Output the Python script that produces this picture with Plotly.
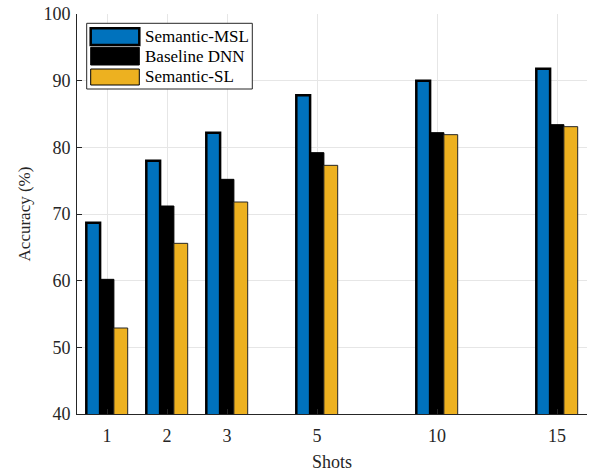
import plotly.graph_objects as go

shots_labels = ["1", "2", "3", "5", "10", "15"]
x_positions = [1, 2, 3, 4.5, 6.5, 8.5]
semantic_msl = [68.7, 78.0, 82.2, 87.8, 90.0, 91.8]
baseline_dnn = [60.2, 71.2, 75.2, 79.2, 82.2, 83.4]
semantic_sl = [52.9, 65.6, 71.8, 77.3, 81.9, 83.1]

series_names = ["Semantic-MSL", "Baseline DNN", "Semantic-SL"]
colors = ["#0072BD", "#000000", "#EDB120"]
line_widths = [2.5, 1, 1]
line_colors = ["#000000", "#000000", "#262626"]

FONT = "Liberation Serif"

fig = go.Figure()
for name, vals, c, lw, lc in zip(series_names, [semantic_msl, baseline_dnn, semantic_sl], colors, line_widths, line_colors):
    fig.add_trace(go.Bar(x=x_positions, y=vals, name=name, marker=dict(color=c, line=dict(color=lc, width=lw)),
                         showlegend=False))

L, R, T, B = 77, 5, 14, 60
W, H = 592, 474
pw, ph = W - L - R, H - T - B

def px(xp):
    return (xp - L) / pw

def py(yp):
    return (T + ph - yp) / ph

# custom legend (MATLAB style wide swatches)
fig.add_shape(type="rect", xref="paper", yref="paper", x0=px(86.7), x1=px(252.3), y0=py(89), y1=py(23.3),
              line=dict(color="#262626", width=1), fillcolor="white", layer="above")
sw = [(28.3, 45), (47.3, 65), (69, 85)]
for (ya, yb), name, c, lw in zip(sw, series_names, colors, line_widths):
    fig.add_shape(type="rect", xref="paper", yref="paper", x0=px(90.7), x1=px(139.3), y0=py(yb), y1=py(ya),
                  line=dict(color="#000000", width=lw), fillcolor=c, layer="above")
    fig.add_annotation(xref="paper", yref="paper", x=px(142.7), y=py((ya + yb) / 2), text=name, showarrow=False,
                       xanchor="left", yanchor="middle", font=dict(family=FONT, size=17, color="#000000"))

axis_common = dict(showline=True, linecolor="#262626", linewidth=1, ticks="inside", ticklen=5,
                   tickcolor="#262626", showgrid=True, gridcolor="#E6E6E6", gridwidth=1, zeroline=False,
                   tickfont=dict(family=FONT, size=18, color="#262626"), mirror=False)

fig.update_layout(
    width=W, height=H,
    margin=dict(l=L, r=R, t=T, b=B),
    plot_bgcolor="white", paper_bgcolor="white",
    barmode="group", bargap=0.31, bargroupgap=0,
    xaxis=dict(range=[0.5, 9.0], tickvals=x_positions, ticktext=shots_labels, ticklabelstandoff=5,
               title=dict(text="Shots", font=dict(family=FONT, size=18, color="#262626"), standoff=10),
               **axis_common),
    yaxis=dict(range=[40, 100], dtick=10, ticklabelstandoff=2,
               title=dict(text="Accuracy (%)", font=dict(family=FONT, size=17, color="#262626"), standoff=8),
               **axis_common),
)

fig.write_html("out.html")
